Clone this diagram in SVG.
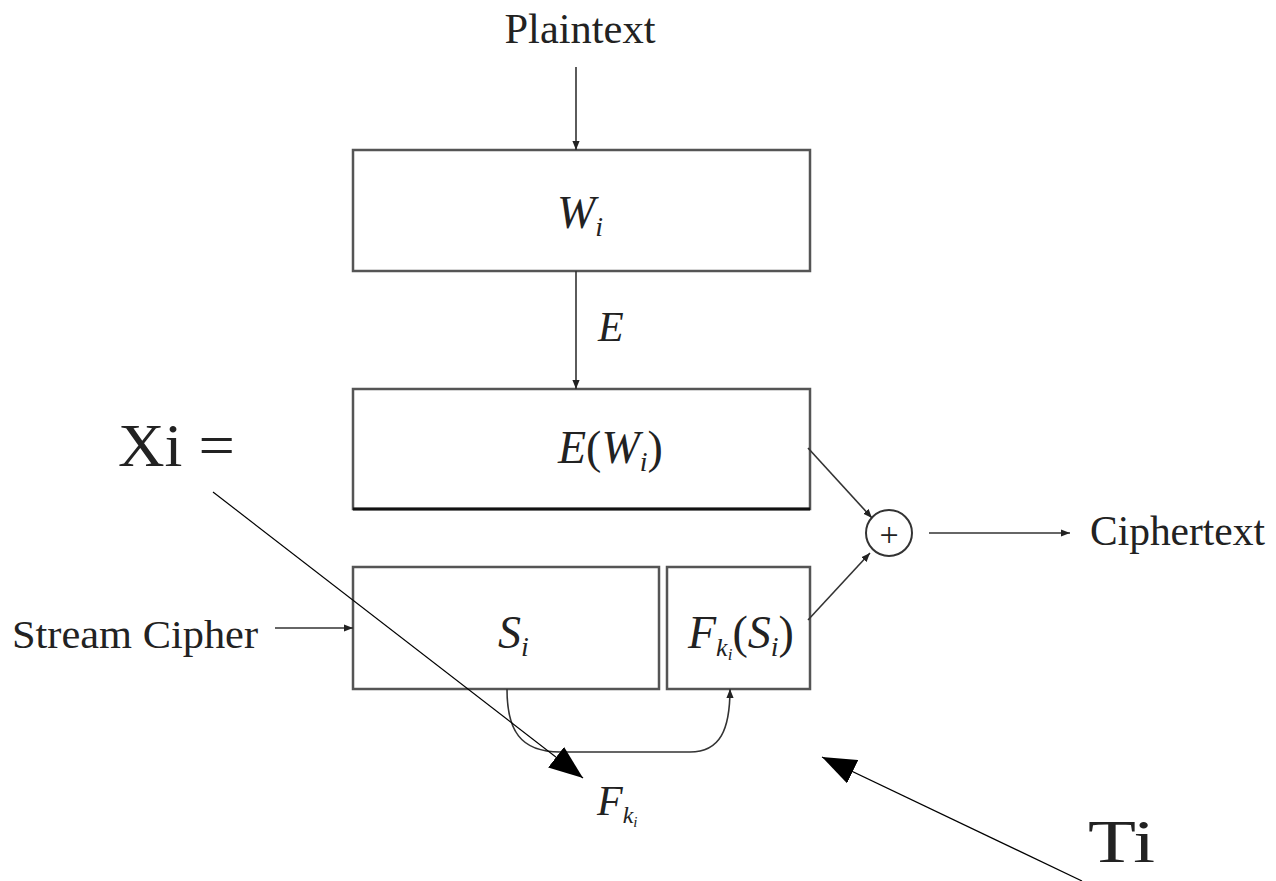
<svg xmlns="http://www.w3.org/2000/svg" width="1276" height="881" viewBox="0 0 1276 881">
<defs>
<style>
.box{fill:none;stroke:#555;stroke-width:2.5}
.ln{fill:none;stroke:#333;stroke-width:1.6}
.thin{fill:none;stroke:#000;stroke-width:1.2}
.t{font-family:"Liberation Serif","DejaVu Serif",serif;fill:#222}
.m{font-family:"Liberation Serif","DejaVu Serif",serif;font-style:italic;fill:#222}
</style>
<marker id="sa" viewBox="0 0 10 10" refX="10" refY="5" markerWidth="9" markerHeight="9" markerUnits="userSpaceOnUse" orient="auto"><path d="M0,1 L10,5 L0,9 z" fill="#222"/></marker>
<marker id="ba" viewBox="0 0 10 10" refX="10" refY="5" markerWidth="34" markerHeight="26" markerUnits="userSpaceOnUse" orient="auto" preserveAspectRatio="none"><path d="M0,0 L10,5 L0,10 z" fill="#000"/></marker>
</defs>
<rect width="1276" height="881" fill="#fff"/>
<g id="plaintext"><text class="t" x="580" y="43" font-size="42" text-anchor="middle" textLength="151" lengthAdjust="spacingAndGlyphs">Plaintext</text></g>
<g id="wi"><rect class="box" x="353" y="150" width="457" height="121"/><text class="t" x="557" y="228" font-size="46"><tspan font-style="italic">W</tspan><tspan font-style="italic" font-size="28" dy="8">i</tspan></text></g>
<g id="ewi"><rect class="box" x="353" y="389" width="457" height="120"/><line x1="353" y1="509" x2="810" y2="509" stroke="#111" stroke-width="3"/><text class="t" x="558" y="463" font-size="46"><tspan font-style="italic">E</tspan>(<tspan font-style="italic">W</tspan><tspan font-style="italic" font-size="28" dy="8">i</tspan><tspan dy="-8">)</tspan></text></g>
<g id="si"><rect class="box" x="353" y="567" width="306" height="122"/><text class="t" x="498" y="648" font-size="46"><tspan font-style="italic">S</tspan><tspan font-style="italic" font-size="28" dy="8">i</tspan></text></g>
<g id="fksi"><rect class="box" x="667" y="567" width="143" height="122"/><text class="t" x="688" y="648" font-size="46"><tspan font-style="italic">F</tspan><tspan font-style="italic" font-size="26" dy="8">k</tspan><tspan font-style="italic" font-size="17" dy="4">i</tspan><tspan dy="-12">(</tspan><tspan font-style="italic">S</tspan><tspan font-style="italic" font-size="28" dy="8">i</tspan><tspan dy="-8">)</tspan></text></g>
<g id="streamcipher"><text class="t" x="12" y="648" font-size="40" textLength="246" lengthAdjust="spacingAndGlyphs">Stream Cipher</text></g>
<g id="xor"><circle cx="889" cy="533" r="23" fill="none" stroke="#333" stroke-width="2"/><text class="t" x="889" y="546" font-size="34" text-anchor="middle">+</text></g>
<g id="ciphertext"><text class="t" x="1090" y="545" font-size="42" textLength="175" lengthAdjust="spacingAndGlyphs">Ciphertext</text></g>
<g id="e-label"><text class="m" x="598" y="341" font-size="42">E</text></g>
<g id="fki-label"><text class="t" x="597" y="815" font-size="42"><tspan font-style="italic">F</tspan><tspan font-style="italic" font-size="24" dy="8">k</tspan><tspan font-style="italic" font-size="15" dy="4">i</tspan></text></g>
<g id="xi-label"><text class="t" x="118" y="466" font-size="62" textLength="117" lengthAdjust="spacingAndGlyphs">Xi =</text></g>
<g id="ti-label"><text class="t" x="1088" y="862" font-size="62" textLength="67" lengthAdjust="spacingAndGlyphs">Ti</text></g>
<g id="connectors">
<line class="ln" x1="576" y1="67" x2="576" y2="150" marker-end="url(#sa)"/>
<line class="ln" x1="576" y1="271" x2="576" y2="389" marker-end="url(#sa)"/>
<line class="ln" x1="275" y1="628" x2="353" y2="628" marker-end="url(#sa)"/>
<line class="ln" x1="808" y1="448" x2="872" y2="518" marker-end="url(#sa)"/>
<line class="ln" x1="808" y1="620" x2="870" y2="553" marker-end="url(#sa)"/>
<line class="ln" x1="929" y1="533" x2="1070" y2="533" marker-end="url(#sa)"/>
<path class="ln" d="M507,689 C507,730 520,752 560,752 L690,752 C720,752 730,730 730,689" marker-end="url(#sa)"/>
<line class="thin" x1="213" y1="492" x2="583" y2="778" marker-end="url(#ba)"/>
<line class="thin" x1="1082" y1="881" x2="822" y2="757" marker-end="url(#ba)"/>
</g>
</svg>
